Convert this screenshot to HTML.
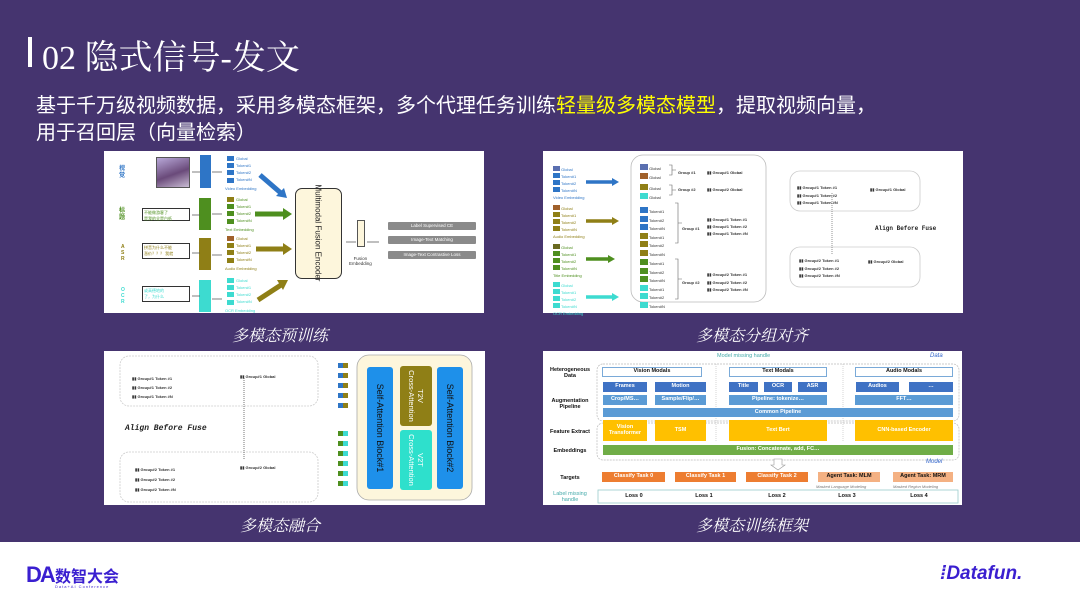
<!DOCTYPE html>
<html><head><meta charset="utf-8">
<style>
*{margin:0;padding:0;box-sizing:border-box}
body{width:1080px;height:607px;overflow:hidden;background:#fff;font-family:"Liberation Sans","Noto Sans CJK SC",sans-serif;position:relative}
.a{position:absolute}
#bg{left:0;top:0;width:1080px;height:542px;background:#45346f}
.panel{background:#fff;position:absolute}
.cap{position:absolute;color:#fff;font-size:16px;font-style:italic;font-family:"Noto Serif CJK SC","Noto Sans CJK SC",serif;text-align:center;width:300px}
.t{position:absolute;font-size:4px;color:#333;white-space:nowrap}
.sq{position:absolute;width:7px;height:5px}
.bx{position:absolute;font-size:5.5px;font-weight:bold;color:#fff;display:flex;align-items:center;justify-content:center;text-align:center;line-height:1}
.lbl{position:absolute;font-size:5.5px;font-weight:bold;color:#111;text-align:center;line-height:1.1}
</style></head><body>
<div id="bg" class="a"></div>
<div class="a" style="left:28px;top:37px;width:4px;height:30px;background:#fff"></div>
<div class="a" style="left:42px;top:30px;color:#fff;font-size:34px;font-family:'Liberation Serif','Noto Serif CJK SC',serif;white-space:nowrap">02 隐式信号-发文</div>
<div class="a" style="left:36px;top:93px;color:#fff;font-size:20px;line-height:27px;font-family:'Liberation Sans','Noto Sans CJK SC',sans-serif;width:1020px">基于千万级视频数据，采用多模态框架，多个代理任务训练<span style="color:#ffff00">轻量级多模态模型</span>，提取视频向量，<br>用于召回层（向量检索）</div>

<!-- Panel 1 -->
<div class="panel" style="left:104px;top:151px;width:380px;height:162px"></div>
<div class="t" style="left:119px;top:166px;font-size:6px;color:#2e75c6;font-weight:bold;line-height:7px">视<br>觉</div>
<div class="t" style="left:119px;top:208px;font-size:6px;color:#4e8f1f;font-weight:bold;line-height:7px">标<br>题</div>
<div class="t" style="left:121px;top:244px;font-size:5px;color:#8f7f16;font-weight:bold;line-height:6px">A<br>S<br>R</div>
<div class="t" style="left:121px;top:287px;font-size:5px;color:#3ddbd0;font-weight:bold;line-height:6px">O<br>C<br>R</div>
<div class="a" style="left:156px;top:157px;width:34px;height:31px;background:linear-gradient(160deg,#b8a8d8,#6a4a7a 55%,#c9bcd4);border:1px solid #555"></div>
<div class="a" style="left:142px;top:208px;width:48px;height:13px;border:1px solid #333;font-size:4px;color:#4e8f1f;padding:1px">不能做游客了<br>是我的全是白纸</div>
<div class="a" style="left:142px;top:243px;width:48px;height:16px;border:1px solid #333;font-size:4px;color:#8f7f16;padding:1px">拼音为什么不能<br>涨价？？？ 我就</div>
<div class="a" style="left:142px;top:286px;width:48px;height:16px;border:1px solid #333;font-size:4px;color:#3ddbd0;padding:1px">或高德地的<br>了，为什么</div>
<div class="a" style="left:200px;top:155px;width:11px;height:33px;background:#2e75c6"></div>
<div class="a" style="left:199px;top:198px;width:12px;height:32px;background:#4e8f1f"></div>
<div class="a" style="left:199px;top:238px;width:12px;height:32px;background:#8f7f16"></div>
<div class="a" style="left:199px;top:280px;width:12px;height:32px;background:#3ddbd0"></div>
<!-- token columns -->
<div class="sq" style="left:227px;top:156px;background:#2e75c6"></div><div class="sq" style="left:227px;top:163px;background:#2e75c6"></div><div class="sq" style="left:227px;top:170px;background:#2e75c6"></div><div class="sq" style="left:227px;top:178px;background:#2e75c6"></div>
<div class="t" style="left:236px;top:155px;line-height:7px;color:#2e75c6">Global<br>Token#1<br>Token#2<br>Token#N</div><div class="t" style="left:225px;top:186px;color:#2e75c6">Video Embedding</div>
<div class="sq" style="left:227px;top:197px;background:#8f7f16"></div><div class="sq" style="left:227px;top:204px;background:#4e8f1f"></div><div class="sq" style="left:227px;top:211px;background:#4e8f1f"></div><div class="sq" style="left:227px;top:219px;background:#4e8f1f"></div>
<div class="t" style="left:236px;top:196px;line-height:7px;color:#4e8f1f">Global<br>Token#1<br>Token#2<br>Token#N</div><div class="t" style="left:225px;top:227px;color:#4e8f1f">Text Embedding</div>
<div class="sq" style="left:227px;top:236px;background:#a0602a"></div><div class="sq" style="left:227px;top:243px;background:#8f7f16"></div><div class="sq" style="left:227px;top:250px;background:#8f7f16"></div><div class="sq" style="left:227px;top:258px;background:#8f7f16"></div>
<div class="t" style="left:236px;top:235px;line-height:7px;color:#8f7f16">Global<br>Token#1<br>Token#2<br>Token#N</div><div class="t" style="left:225px;top:266px;color:#8f7f16">Audio Embedding</div>
<div class="sq" style="left:227px;top:278px;background:#3ddbd0"></div><div class="sq" style="left:227px;top:285px;background:#3ddbd0"></div><div class="sq" style="left:227px;top:292px;background:#3ddbd0"></div><div class="sq" style="left:227px;top:300px;background:#3ddbd0"></div>
<div class="t" style="left:236px;top:277px;line-height:7px;color:#3ddbd0">Global<br>Token#1<br>Token#2<br>Token#N</div><div class="t" style="left:225px;top:308px;color:#3ddbd0">OCR Embedding</div>
<svg class="a" style="left:104px;top:151px" width="380" height="162">
<g stroke="#555" stroke-width="0.7" fill="none"><path d="M88 21h8M88 64h8M88 102h8M88 145h8M108 21h10M108 63h10M108 104h10M108 148h10M242 91h10M263 91h12"/></g>
<path d="M156 24 L178 43" stroke="#2e75c6" stroke-width="5"/><polygon points="183,47 172,45 180,37" fill="#2e75c6"/>
<path d="M151 63 H180" stroke="#4e8f1f" stroke-width="5"/><polygon points="188,63 179,57 179,69" fill="#4e8f1f"/>
<path d="M152 98 H180" stroke="#8f7f16" stroke-width="5"/><polygon points="188,98 179,92 179,104" fill="#8f7f16"/>
<path d="M154 149 L177 134" stroke="#8f7f16" stroke-width="5"/><polygon points="184,129 173,129 179,139" fill="#8f7f16"/>
</svg>
<div class="a" style="left:295px;top:188px;width:47px;height:91px;border:1px solid #333;border-radius:7px;background:#fdf6dc"></div>
<div class="a" style="left:318px;top:233px;transform:translate(-50%,-50%) rotate(90deg);font-size:8px;white-space:nowrap;color:#222">Multimodal Fusion Encoder</div>
<div class="a" style="left:357px;top:220px;width:8px;height:27px;border:1px solid #555;background:#fdf6dc"></div>
<div class="t" style="left:349px;top:256px;text-align:center;font-size:4.5px;line-height:5px">Fusion<br>Embedding</div>
<div class="bx" style="left:388px;top:222px;width:88px;height:8px;background:#8a8a8a;font-weight:normal;font-size:4.5px;border-radius:1px">Label Supervised CE</div>
<div class="bx" style="left:388px;top:236px;width:88px;height:8px;background:#8a8a8a;font-weight:normal;font-size:4.5px;border-radius:1px">Image-Text Matching</div>
<div class="bx" style="left:388px;top:251px;width:88px;height:8px;background:#8a8a8a;font-weight:normal;font-size:4.5px;border-radius:1px">Image-Text Contrastive Loss</div>

<!-- Panel 2 -->
<div class="panel" style="left:543px;top:151px;width:420px;height:162px"></div>
<svg class="a" style="left:543px;top:151px" width="420" height="162">
<rect x="88" y="4" width="135" height="147" rx="12" fill="none" stroke="#bbb" stroke-width="0.8"/>
<rect x="247" y="20" width="130" height="40" rx="10" fill="none" stroke="#ccc" stroke-width="0.8"/>
<rect x="247" y="96" width="130" height="40" rx="10" fill="none" stroke="#ccc" stroke-width="0.8"/>
<line x1="289" y1="42" x2="289" y2="104" stroke="#666" stroke-dasharray="1,1" stroke-width="0.7"/>
<g stroke-width="3"><path d="M2 1" /></g>
<path d="M43 31H70" stroke="#2e75c6" stroke-width="3.5"/><polygon points="76,31 69,27 69,35" fill="#2e75c6"/>
<path d="M43 70H70" stroke="#8f7f16" stroke-width="3.5"/><polygon points="76,70 69,66 69,74" fill="#8f7f16"/>
<path d="M43 108H66" stroke="#4e8f1f" stroke-width="3.5"/><polygon points="72,108 65,104 65,112" fill="#4e8f1f"/>
<path d="M43 146H70" stroke="#3ddbd0" stroke-width="3.5"/><polygon points="76,146 69,142 69,150" fill="#3ddbd0"/>
<g fill="none" stroke="#666" stroke-width="0.6"><path d="M126 14h3v10h-3M129 19h4M126 34h3v10h-3M129 39h4M132 52h3v40h-3M135 72h4M132 108h3v40h-3M135 128h4"/></g>
</svg>
<div class="t" style="left:553px;top:166px;line-height:7px;color:#2e75c6"><span style="display:inline-block;width:7px;height:5px;background:#5a6fb0"></span> Global<br><span style="display:inline-block;width:7px;height:5px;background:#2e75c6"></span> Token#1<br><span style="display:inline-block;width:7px;height:5px;background:#2e75c6"></span> Token#2<br><span style="display:inline-block;width:7px;height:5px;background:#2e75c6"></span> Token#N<br>Video Embedding</div>
<div class="t" style="left:553px;top:205px;line-height:7px;color:#8f7f16"><span style="display:inline-block;width:7px;height:5px;background:#a0602a"></span> Global<br><span style="display:inline-block;width:7px;height:5px;background:#8f7f16"></span> Token#1<br><span style="display:inline-block;width:7px;height:5px;background:#8f7f16"></span> Token#2<br><span style="display:inline-block;width:7px;height:5px;background:#8f7f16"></span> Token#N<br>Audio Embedding</div>
<div class="t" style="left:553px;top:244px;line-height:7px;color:#4e8f1f"><span style="display:inline-block;width:7px;height:5px;background:#6a6a20"></span> Global<br><span style="display:inline-block;width:7px;height:5px;background:#4e8f1f"></span> Token#1<br><span style="display:inline-block;width:7px;height:5px;background:#4e8f1f"></span> Token#2<br><span style="display:inline-block;width:7px;height:5px;background:#4e8f1f"></span> Token#N<br>Title Embedding</div>
<div class="t" style="left:553px;top:282px;line-height:7px;color:#3ddbd0"><span style="display:inline-block;width:7px;height:5px;background:#3ddbd0"></span> Global<br><span style="display:inline-block;width:7px;height:5px;background:#3ddbd0"></span> Token#1<br><span style="display:inline-block;width:7px;height:5px;background:#3ddbd0"></span> Token#2<br><span style="display:inline-block;width:7px;height:5px;background:#3ddbd0"></span> Token#N<br>OCR Embedding</div>
<div class="t" style="left:640px;top:164px;line-height:8px"><span style="display:inline-block;width:8px;height:6px;background:#5a6fb0"></span> Global<br><span style="display:inline-block;width:8px;height:6px;background:#a0602a"></span> Global</div>
<div class="t" style="left:640px;top:184px;line-height:8px"><span style="display:inline-block;width:8px;height:6px;background:#8f7f16"></span> Global<br><span style="display:inline-block;width:8px;height:6px;background:#3ddbd0"></span> Global</div>
<div class="t" style="left:640px;top:207px;line-height:7.5px"><span style="display:inline-block;width:8px;height:6px;background:#2e75c6"></span> Token#1<br><span style="display:inline-block;width:8px;height:6px;background:#2e75c6"></span> Token#2<br><span style="display:inline-block;width:8px;height:6px;background:#2e75c6"></span> Token#N<br><span style="display:inline-block;width:8px;height:6px;background:#8f7f16"></span> Token#1<br><span style="display:inline-block;width:8px;height:6px;background:#8f7f16"></span> Token#2<br><span style="display:inline-block;width:8px;height:6px;background:#8f7f16"></span> Token#N</div>
<div class="t" style="left:640px;top:259px;line-height:7.5px"><span style="display:inline-block;width:8px;height:6px;background:#4e8f1f"></span> Token#1<br><span style="display:inline-block;width:8px;height:6px;background:#4e8f1f"></span> Token#2<br><span style="display:inline-block;width:8px;height:6px;background:#4e8f1f"></span> Token#N<br><span style="display:inline-block;width:8px;height:6px;background:#3ddbd0"></span> Token#1<br><span style="display:inline-block;width:8px;height:6px;background:#3ddbd0"></span> Token#2<br><span style="display:inline-block;width:8px;height:6px;background:#3ddbd0"></span> Token#N</div>
<div class="t" style="left:678px;top:170px;font-weight:bold">Group #1</div>
<div class="t" style="left:678px;top:187px;font-weight:bold">Group #2</div>
<div class="t" style="left:682px;top:226px;font-weight:bold">Group #1</div>
<div class="t" style="left:682px;top:280px;font-weight:bold">Group #2</div>
<div class="t" style="left:707px;top:170px;font-weight:bold">▮▮ Group#1 Global</div>
<div class="t" style="left:707px;top:187px;font-weight:bold">▮▮ Group#2 Global</div>
<div class="t" style="left:707px;top:216px;font-weight:bold;line-height:7px">▮▮ Group#1 Token #1<br>▮▮ Group#1 Token #2<br>▮▮ Group#1 Token #N</div>
<div class="t" style="left:707px;top:271px;font-weight:bold;line-height:7.5px">▮▮ Group#2 Token #1<br>▮▮ Group#2 Token #2<br>▮▮ Group#2 Token #N</div>
<div class="t" style="left:797px;top:184px;font-weight:bold;line-height:7.5px">▮▮ Group#1 Token #1<br>▮▮ Group#1 Token #2<br>▮▮ Group#1 Token #N</div>
<div class="t" style="left:870px;top:187px;font-weight:bold">▮▮ Group#1 Global</div>
<div class="t" style="left:799px;top:257px;font-weight:bold;line-height:7.5px">▮▮ Group#2 Token #1<br>▮▮ Group#2 Token #2<br>▮▮ Group#2 Token #N</div>
<div class="t" style="left:868px;top:259px;font-weight:bold">▮▮ Group#2 Global</div>
<div class="t" style="left:875px;top:225px;font-family:'Liberation Mono',monospace;font-weight:bold;font-size:6px;color:#222">Align Before Fuse</div>

<!-- Panel 3 -->
<div class="panel" style="left:104px;top:351px;width:381px;height:154px"></div>
<svg class="a" style="left:104px;top:351px" width="381" height="154">
<rect x="16" y="5" width="198" height="50" rx="9" fill="none" stroke="#ccc" stroke-width="0.8" stroke-dasharray="2,1"/>
<rect x="16" y="101" width="198" height="50" rx="9" fill="none" stroke="#ccc" stroke-width="0.8" stroke-dasharray="2,1"/>
<line x1="140" y1="27" x2="140" y2="108" stroke="#555" stroke-dasharray="1,1" stroke-width="0.8"/>
<rect x="253" y="4" width="115" height="145" rx="12" fill="#fdf6dc" stroke="#aaa" stroke-width="0.8"/>
<rect x="263" y="16" width="26" height="122" rx="3" fill="#1e90ea"/>
<rect x="333" y="16" width="26" height="122" rx="3" fill="#1e90ea"/>
<rect x="296" y="15" width="32" height="60" rx="3" fill="#8f7f16"/>
<rect x="296" y="79" width="32" height="60" rx="3" fill="#2ee0cc"/>
<g>
<rect x="234" y="12" width="5" height="5" fill="#2e75c6"/><rect x="239" y="12" width="5" height="5" fill="#8f7f16"/>
<rect x="234" y="22" width="5" height="5" fill="#2e75c6"/><rect x="239" y="22" width="5" height="5" fill="#8f7f16"/>
<rect x="234" y="32" width="5" height="5" fill="#2e75c6"/><rect x="239" y="32" width="5" height="5" fill="#8f7f16"/>
<rect x="234" y="42" width="5" height="5" fill="#2e75c6"/><rect x="239" y="42" width="5" height="5" fill="#8f7f16"/>
<rect x="234" y="52" width="5" height="5" fill="#2e75c6"/><rect x="239" y="52" width="5" height="5" fill="#8f7f16"/>
<rect x="234" y="80" width="5" height="5" fill="#4e8f1f"/><rect x="239" y="80" width="5" height="5" fill="#3ddbd0"/>
<rect x="234" y="90" width="5" height="5" fill="#4e8f1f"/><rect x="239" y="90" width="5" height="5" fill="#3ddbd0"/>
<rect x="234" y="100" width="5" height="5" fill="#4e8f1f"/><rect x="239" y="100" width="5" height="5" fill="#3ddbd0"/>
<rect x="234" y="110" width="5" height="5" fill="#4e8f1f"/><rect x="239" y="110" width="5" height="5" fill="#3ddbd0"/>
<rect x="234" y="120" width="5" height="5" fill="#4e8f1f"/><rect x="239" y="120" width="5" height="5" fill="#3ddbd0"/>
<rect x="234" y="130" width="5" height="5" fill="#4e8f1f"/><rect x="239" y="130" width="5" height="5" fill="#3ddbd0"/>
</g>
</svg>
<div class="a" style="left:380px;top:428px;transform:translate(-50%,-50%) rotate(90deg);font-size:9px;white-space:nowrap;color:#111">Self-Attention Block#1</div>
<div class="a" style="left:450px;top:428px;transform:translate(-50%,-50%) rotate(90deg);font-size:9px;white-space:nowrap;color:#111">Self-Attention Block#2</div>
<div class="a" style="left:416px;top:396px;transform:translate(-50%,-50%) rotate(90deg);font-size:7.5px;white-space:nowrap;color:#fff;text-align:center;line-height:9px">T2V<br>Cross-Attention</div>
<div class="a" style="left:416px;top:460px;transform:translate(-50%,-50%) rotate(90deg);font-size:7.5px;white-space:nowrap;color:#fff;text-align:center;line-height:9px">V2T<br>Cross-Attention</div>
<div class="t" style="left:132px;top:374px;font-weight:bold;line-height:9px">▮▮ Group#1 Token #1<br>▮▮ Group#1 Token #2<br>▮▮ Group#1 Token #N</div>
<div class="t" style="left:240px;top:374px;font-weight:bold">▮▮ Group#1 Global</div>
<div class="t" style="left:135px;top:465px;font-weight:bold;line-height:10px">▮▮ Group#2 Token #1<br>▮▮ Group#2 Token #2<br>▮▮ Group#2 Token #N</div>
<div class="t" style="left:240px;top:465px;font-weight:bold">▮▮ Group#2 Global</div>
<div class="t" style="left:125px;top:424px;font-family:'Liberation Mono',monospace;font-weight:bold;font-style:italic;font-size:8px;color:#222">Align Before Fuse</div>

<!-- Panel 4 -->
<div class="panel" style="left:543px;top:351px;width:419px;height:154px"></div>
<svg class="a" style="left:543px;top:351px" width="419" height="154">
<rect x="54" y="13" width="362" height="57" rx="6" fill="none" stroke="#bbb" stroke-width="0.7" stroke-dasharray="2,1"/>
<rect x="54" y="72" width="362" height="37" rx="6" fill="none" stroke="#bbb" stroke-width="0.7" stroke-dasharray="2,1"/>
<line x1="173" y1="13" x2="173" y2="90" stroke="#bbb" stroke-dasharray="1,1" stroke-width="0.6"/>
<line x1="300" y1="13" x2="300" y2="90" stroke="#bbb" stroke-dasharray="1,1" stroke-width="0.6"/>
<polygon points="231,108 239,108 239,114 242,114 235,119 228,114 231,114" fill="#fff" stroke="#999" stroke-width="0.6"/>
<rect x="55" y="139" width="360" height="13" fill="none" stroke="#9cc" stroke-width="0.8"/>
</svg>
<div class="t" style="left:717px;top:353px;font-size:5.5px;color:#4aa">Model missing handle</div>
<div class="t" style="left:930px;top:353px;font-size:6px;font-style:italic;color:#36c">Data</div>
<div class="t" style="left:926px;top:459px;font-size:6px;font-style:italic;color:#36c">Model</div>
<div class="lbl" style="left:544px;top:367px;width:52px">Heterogeneous<br>Data</div>
<div class="lbl" style="left:544px;top:398px;width:52px">Augmentation<br>Pipeline</div>
<div class="lbl" style="left:544px;top:429px;width:52px">Feature Extract</div>
<div class="lbl" style="left:544px;top:448px;width:52px">Embeddings</div>
<div class="lbl" style="left:544px;top:475px;width:52px">Targets</div>
<div class="lbl" style="left:544px;top:491px;width:52px;color:#4aa;font-weight:normal">Label missing<br>handle</div>
<div class="bx" style="left:602px;top:367px;width:100px;height:10px;background:#fff;border:1px solid #7aaad8;color:#111">Vision Modals</div>
<div class="bx" style="left:729px;top:367px;width:98px;height:10px;background:#fff;border:1px solid #7aaad8;color:#111">Text Modals</div>
<div class="bx" style="left:855px;top:367px;width:98px;height:10px;background:#fff;border:1px solid #7aaad8;color:#111">Audio Modals</div>
<div class="bx" style="left:603px;top:382px;width:44px;height:10px;background:#3f72c4">Frames</div>
<div class="bx" style="left:655px;top:382px;width:51px;height:10px;background:#3f72c4">Motion</div>
<div class="bx" style="left:729px;top:382px;width:29px;height:10px;background:#3f72c4">Title</div>
<div class="bx" style="left:764px;top:382px;width:28px;height:10px;background:#3f72c4">OCR</div>
<div class="bx" style="left:798px;top:382px;width:29px;height:10px;background:#3f72c4">ASR</div>
<div class="bx" style="left:856px;top:382px;width:43px;height:10px;background:#3f72c4">Audios</div>
<div class="bx" style="left:909px;top:382px;width:44px;height:10px;background:#3f72c4">…</div>
<div class="bx" style="left:603px;top:395px;width:44px;height:10px;background:#5b9bd5">Crop/MS…</div>
<div class="bx" style="left:655px;top:395px;width:51px;height:10px;background:#5b9bd5">Sample/Flip/…</div>
<div class="bx" style="left:729px;top:395px;width:98px;height:10px;background:#5b9bd5">Pipeline: tokenize…</div>
<div class="bx" style="left:855px;top:395px;width:98px;height:10px;background:#5b9bd5">FFT…</div>
<div class="bx" style="left:603px;top:408px;width:350px;height:9px;background:#5b9bd5">Common Pipeline</div>
<div class="bx" style="left:603px;top:420px;width:44px;height:21px;background:#ffc000">Vision<br>Transformer</div>
<div class="bx" style="left:655px;top:420px;width:51px;height:21px;background:#ffc000">TSM</div>
<div class="bx" style="left:729px;top:420px;width:98px;height:21px;background:#ffc000">Text Bert</div>
<div class="bx" style="left:855px;top:420px;width:98px;height:21px;background:#ffc000">CNN-based Encoder</div>
<div class="bx" style="left:603px;top:445px;width:350px;height:10px;background:#70ad47">Fusion: Concatenate, add, FC…</div>
<div class="bx" style="left:602px;top:472px;width:63px;height:10px;background:#ed7d31">Classify Task 0</div>
<div class="bx" style="left:675px;top:472px;width:61px;height:10px;background:#ed7d31">Classify Task 1</div>
<div class="bx" style="left:746px;top:472px;width:62px;height:10px;background:#ed7d31">Classify Task 2</div>
<div class="bx" style="left:818px;top:472px;width:62px;height:10px;background:#f4b183;color:#111">Agent Task: MLM</div>
<div class="bx" style="left:893px;top:472px;width:60px;height:10px;background:#f4b183;color:#111">Agent Task: MRM</div>
<div class="t" style="left:816px;top:484px;font-size:4px;font-style:italic;color:#777">Masked Language Modeling</div>
<div class="t" style="left:893px;top:484px;font-size:4px;font-style:italic;color:#777">Masked Region Modeling</div>
<div class="lbl" style="left:614px;top:493px;width:40px">Loss 0</div>
<div class="lbl" style="left:684px;top:493px;width:40px">Loss 1</div>
<div class="lbl" style="left:757px;top:493px;width:40px">Loss 2</div>
<div class="lbl" style="left:827px;top:493px;width:40px">Loss 3</div>
<div class="lbl" style="left:899px;top:493px;width:40px">Loss 4</div>

<!-- captions -->
<div class="cap" style="left:130px;top:323px">多模态预训练</div>
<div class="cap" style="left:602px;top:323px">多模态分组对齐</div>
<div class="cap" style="left:130px;top:513px">多模态融合</div>
<div class="cap" style="left:602px;top:513px">多模态训练框架</div>

<!-- footer -->
<div class="a" style="left:26px;top:562px;font-size:22px;font-weight:bold;color:#3a1fd0;letter-spacing:-2px;font-family:'Liberation Sans',sans-serif">DA</div>
<div class="a" style="left:55px;top:563px;font-size:16px;font-weight:bold;color:#3a1fd0">数智大会</div>
<div class="a" style="left:55px;top:584px;font-size:4px;color:#3a1fd0;letter-spacing:1px">Data+AI Conference</div>
<div class="a" style="left:940px;top:563px;font-size:19px;font-weight:bold;font-style:italic;color:#3a1fd0">⁞Datafun.</div>
</body></html>
